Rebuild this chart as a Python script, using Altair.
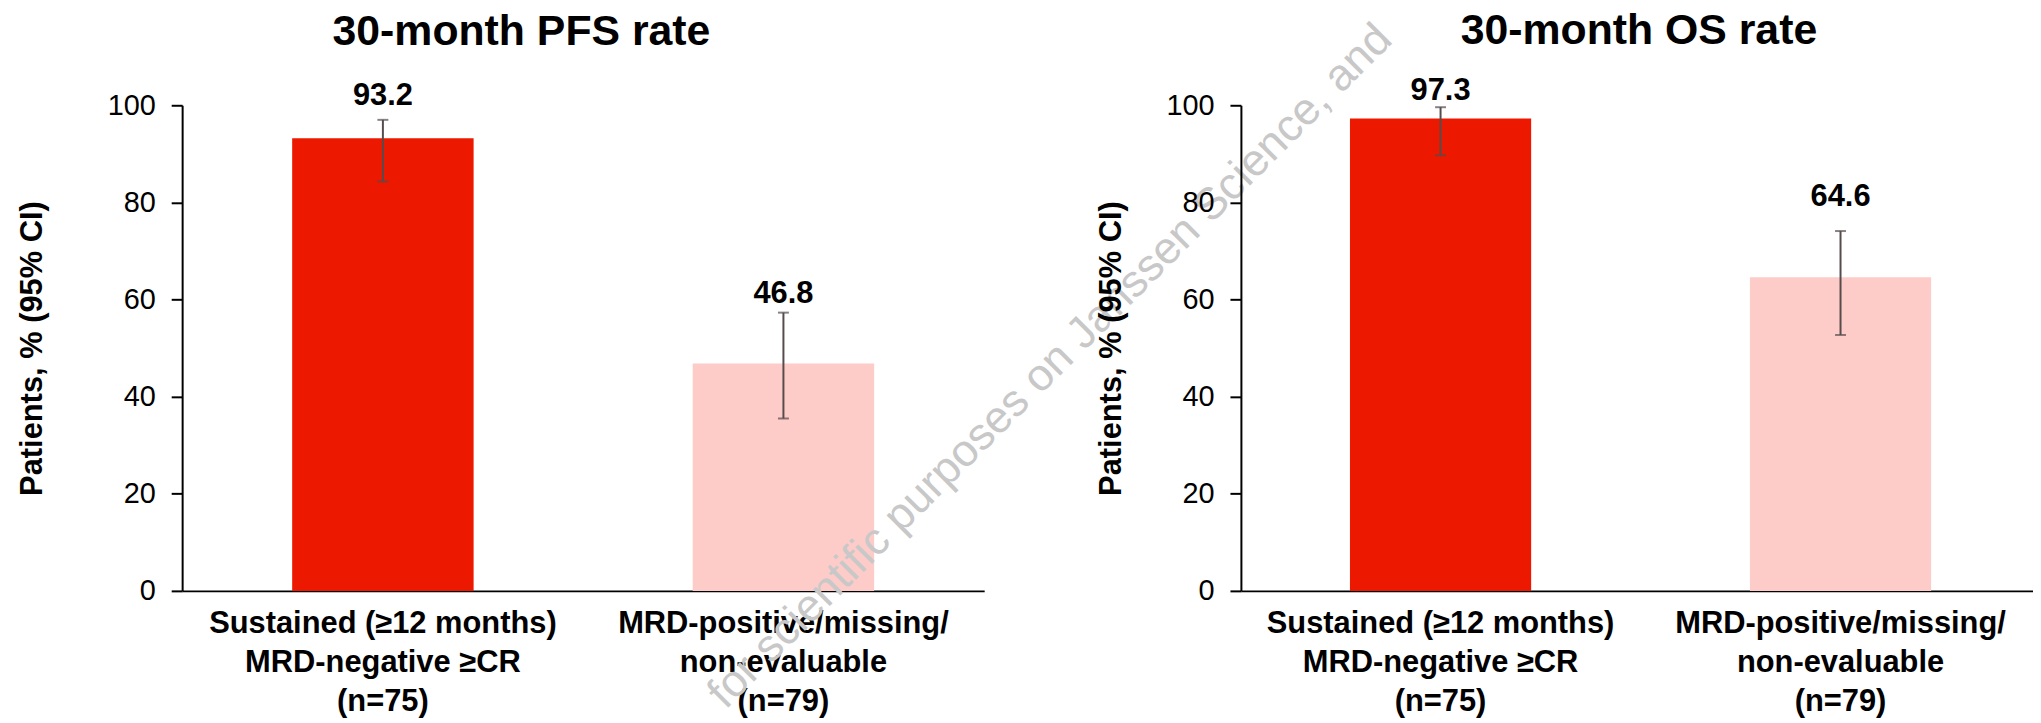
import altair as alt
import pandas as pd

# ---- data ----
groups = ["Sustained (≥12 months)|MRD-negative ≥CR|(n=75)",
          "MRD-positive/missing/|non-evaluable|(n=79)"]
bar_colors = ["#EC1800", "#FDCCC8"]

pfs_rate = [93.2, 46.8]
pfs_lower = [84.3, 35.5]
pfs_upper = [97.0, 57.3]
pfs_label_at = [101.8, 61.1]

os_rate = [97.3, 64.6]
os_lower = [89.7, 52.7]
os_upper = [99.6, 74.1]
os_label_at = [103.0, 81.2]

y_ticks = [0, 20, 40, 60, 80, 100]
y_title = "Patients, % (95% CI)"
titles = ["30-month PFS rate", "30-month OS rate"]
watermark = ["for scientific purposes on Janssen Science, and"]

FONT = "Liberation Sans"
ERR = "#564c4c"


def panel(title, rate, lower, upper, label_at, width, title_dx, title_pad,
          title_offset, pad_outer, align, extra=None):
    df = pd.DataFrame({
        "group": groups, "rate": rate, "lower": lower, "upper": upper,
        "label_at": label_at, "label": [f"{v:.1f}" for v in rate],
    })
    xs = alt.Scale(paddingInner=0.547, paddingOuter=pad_outer, align=align)
    x = alt.X(
        "group:N", sort=groups, scale=xs,
        axis=alt.Axis(
            title=None, labelAngle=0, labelExpr="split(datum.label, '|')",
            ticks=False, domainColor="black", domainWidth=2,
            labelFont=FONT, labelFontSize=31, labelFontWeight="bold",
            labelColor="black", labelPadding=18, labelLineHeight=39,
            labelLimit=1000, labelOverlap=False, labelFlush=False,
        ),
    )
    xg = alt.X("group:N", sort=groups, scale=xs)
    y_scale = alt.Scale(domain=[0, 100], nice=False)
    y = alt.Y(
        "rate:Q", scale=y_scale,
        axis=alt.Axis(
            title=y_title, values=y_ticks, grid=False,
            domainColor="black", domainWidth=2,
            tickColor="black", tickWidth=2, tickSize=11,
            labelFont=FONT, labelFontSize=29, labelColor="black", labelPadding=16,
            titleFont=FONT, titleFontSize=31, titleFontWeight="bold",
            titleColor="black", titlePadding=title_pad,
        ),
    )
    base = alt.Chart(df)
    bars = base.mark_bar().encode(
        x=x, y=y,
        color=alt.Color("group:N", sort=groups,
                        scale=alt.Scale(domain=groups, range=bar_colors), legend=None),
    )
    rule = base.mark_rule(color=ERR, strokeWidth=2).encode(
        x=xg, y=alt.Y("lower:Q", scale=y_scale), y2="upper:Q")
    cap_lo = base.mark_tick(color=ERR, thickness=2, size=11).encode(
        x=xg, y=alt.Y("lower:Q", scale=y_scale))
    cap_hi = base.mark_tick(color=ERR, thickness=2, size=11).encode(
        x=xg, y=alt.Y("upper:Q", scale=y_scale))
    labels = base.mark_text(font=FONT, fontSize=31, fontWeight="bold",
                            color="black", baseline="middle").encode(
        x=xg, y=alt.Y("label_at:Q", scale=y_scale), text="label:N")
    layers = [bars, rule, cap_lo, cap_hi, labels]
    if extra is not None:
        layers.append(extra)
    return alt.layer(*layers).properties(
        width=width, height=488,
        title=alt.TitleParams(title, font=FONT, fontSize=43, fontWeight="bold",
                              color="black", anchor="middle", dx=title_dx,
                              offset=title_offset),
    )


wm = alt.Chart(pd.DataFrame({"t": watermark})).mark_text(
    font=FONT, fontSize=45, color="#c8c8c8", angle=315,
    align="center", baseline="middle",
).encode(text="t:N", x=alt.value(872), y=alt.value(262))

left = panel(titles[0], pfs_rate, pfs_lower, pfs_upper, pfs_label_at,
             806, -62, 59, -37.6, 0.2747, 0.5, extra=wm)
right = panel(titles[1], os_rate, os_lower, os_upper, os_label_at,
              796, 2, 39, 22, 0.2637, 0.517)

chart = alt.hconcat(left, right, spacing=258, bounds="flush").properties(
    padding={"left": 8, "top": 0, "right": 0, "bottom": 0}
).configure_view(stroke=None)

chart.save("out.html", embed_options={"renderer": "svg", "actions": False})
